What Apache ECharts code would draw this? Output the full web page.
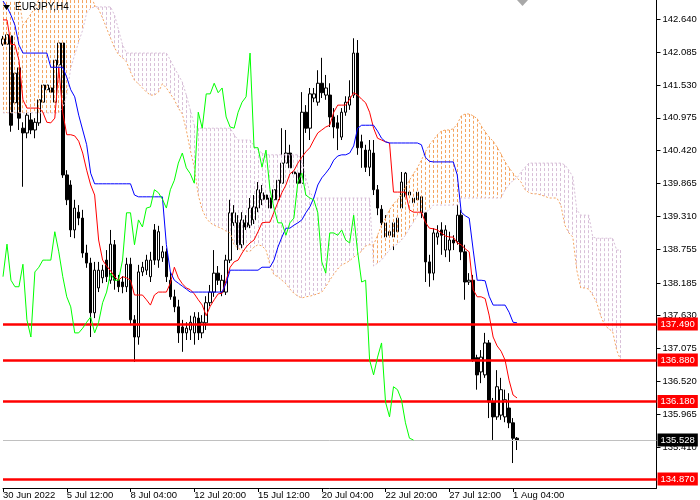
<!DOCTYPE html>
<html><head><meta charset="utf-8">
<script src="https://cdn.jsdelivr.net/npm/echarts@6/dist/echarts.min.js"></script>
<style>html,body{margin:0;padding:0;background:#fff}#c{width:700px;height:500px}</style>
</head><body><div id="c"></div>
<script>
const symbolTitle = 'EURJPY,H4';
const timeLabels = ['30 Jun 2022','5 Jul 12:00','8 Jul 04:00','12 Jul 20:00','15 Jul 12:00','20 Jul 04:00','22 Jul 20:00','27 Jul 12:00','1 Aug 04:00'];
const labelEvery = 16;
const slotCount = 165;
const yTicks = [142.640,142.085,141.530,140.975,140.420,139.865,139.310,138.755,138.185,137.630,137.075,136.520,135.965,135.410];
const levels = [137.490,136.880,136.180,134.870];
const currentPrice = 135.528;
const chikouShift = 26;

const opens = [142.22,142.22,142.36,141.23,141.82,140.80,140.72,140.94,140.77,140.89,141.24,141.45,141.48,141.24,141.87,142.24,140.01,139.84,139.08,139.38,
139.28,138.69,138.52,137.68,138.10,138.27,138.57,138.23,138.83,138.23,138.20,138.12,138.50,137.56,137.27,138.37,138.40,138.29,139.08,138.57,
138.61,138.71,138.23,137.95,137.78,137.44,137.34,137.39,137.34,137.59,137.34,137.51,137.85,138.03,138.35,138.03,138.03,138.57,139.20,139.20,
138.83,139.20,139.16,139.25,139.45,139.59,139.67,139.62,139.59,139.59,139.87,140.21,140.38,140.06,140.04,139.87,141.07,140.80,141.31,141.24,
141.56,141.36,141.36,140.99,140.89,140.65,141.07,141.19,141.36,142.07,140.57,140.43,140.14,140.38,139.76,139.43,138.96,139.05,138.96,139.05,
139.45,139.64,139.72,139.54,139.72,139.64,139.37,138.54,138.35,138.96,139.08,138.74,138.74,138.91,138.88,139.33,138.71,138.20,138.23,136.92,
136.68,136.63,137.17,136.17,135.92,135.95,135.92,136.07,135.82,135.56];
const closes = [142.31,142.38,140.85,141.73,140.97,140.72,141.02,140.77,140.90,141.28,141.53,141.53,141.41,141.95,142.24,140.01,139.59,139.08,139.45,139.28,
138.69,138.52,137.68,138.40,138.40,138.40,138.29,138.84,138.23,138.12,138.12,138.50,137.56,137.27,138.37,138.45,138.57,138.57,138.57,139.05,
138.71,138.29,137.95,137.78,137.34,137.34,137.42,137.52,137.61,137.34,137.52,137.85,138.03,138.35,138.23,138.23,138.57,139.37,139.37,138.83,
139.25,139.13,139.45,139.47,139.76,139.71,139.60,139.45,139.76,139.92,140.21,140.38,140.13,140.03,139.87,141.07,140.80,141.38,141.38,141.56,
141.40,141.48,140.99,140.82,140.80,141.07,141.24,141.33,142.07,140.47,140.47,140.14,140.43,139.76,139.45,139.20,139.20,138.99,139.20,139.28,
139.89,140.04,139.67,139.62,139.59,139.37,138.54,138.35,139.03,139.03,138.99,139.08,138.91,138.86,139.33,138.71,138.20,138.23,136.88,136.63,
136.93,137.17,136.17,135.92,136.43,136.38,136.21,135.82,135.56,135.53];
const highs = [142.36,142.48,142.41,141.82,141.92,140.90,141.07,141.07,140.97,141.41,141.65,141.61,141.55,142.04,142.38,142.38,140.09,139.92,139.59,139.50,
139.42,138.83,138.61,138.54,138.54,138.49,138.74,139.08,138.91,138.32,138.30,138.61,138.61,137.64,138.49,138.54,138.66,138.71,139.18,139.15,
138.81,138.77,138.37,138.07,137.90,137.56,137.52,137.63,137.69,137.69,137.64,137.96,138.15,138.74,138.47,138.32,138.66,139.59,139.50,139.33,
139.38,139.33,139.62,139.67,139.89,139.84,139.76,139.79,139.84,140.09,140.80,140.77,140.52,140.18,140.18,141.41,141.19,141.48,141.48,141.78,
141.99,141.70,141.56,141.14,141.02,141.14,141.34,141.61,142.32,142.29,140.69,140.52,140.60,140.60,139.84,139.50,139.33,139.33,139.28,139.38,
140.06,140.06,139.84,139.72,139.84,139.76,139.45,138.66,139.11,139.16,139.21,139.16,139.05,138.99,139.54,139.42,138.83,138.35,138.32,136.97,
137.05,137.34,137.22,136.24,136.71,136.58,136.38,136.32,135.90,135.58];
const lows = [142.19,142.17,140.74,141.14,140.77,139.81,140.63,140.70,140.63,140.84,141.19,141.41,141.36,141.21,141.82,139.96,139.50,138.96,138.94,139.16,
138.61,138.44,137.27,137.59,138.03,138.18,138.20,138.17,138.07,138.03,138.01,138.03,137.47,136.85,137.14,138.30,138.32,138.20,138.49,138.44,
138.54,138.20,137.90,137.69,137.17,137.02,137.22,137.22,137.14,137.22,137.25,137.39,137.79,137.95,138.15,137.96,137.98,138.52,139.15,138.74,
138.77,139.08,139.11,139.18,139.38,139.50,139.50,139.38,139.50,139.50,139.81,140.13,140.06,139.92,139.59,139.82,140.72,140.60,141.24,141.18,
141.31,141.28,140.82,140.63,140.43,140.60,141.01,141.11,141.31,140.35,140.13,140.06,139.99,139.67,139.33,139.08,138.91,138.94,138.74,138.98,
139.38,139.59,139.59,139.47,139.50,139.28,138.20,138.12,138.23,138.83,138.66,138.62,138.54,138.74,138.83,138.57,137.90,138.15,136.85,136.38,
136.49,136.58,135.90,135.53,135.87,135.87,135.83,135.73,135.14,135.36];

const tenkan = [142.63,142.63,142.22,142.21,141.95,141.28,141.14,141.14,141.14,141.14,141.07,140.90,140.89,140.97,141.82,141.06,140.69,140.69,140.67,140.58,
140.38,140.09,139.84,139.67,138.91,138.57,138.47,138.39,138.29,138.23,138.29,138.27,138.23,137.98,137.98,137.98,137.90,137.81,137.98,138.03,
138.03,138.03,138.18,138.45,138.27,138.17,138.10,138.07,138.00,137.90,137.81,137.63,137.79,137.90,138.00,138.01,138.23,138.45,138.54,138.57,
138.69,138.79,138.86,138.91,139.05,139.20,139.21,139.21,139.38,139.55,139.71,139.84,140.03,140.08,140.21,140.31,140.40,140.47,140.60,140.72,
140.77,140.82,140.85,141.07,141.19,141.19,141.19,141.29,141.40,141.36,141.29,141.23,141.07,140.80,140.63,140.60,140.57,140.55,139.72,139.72,
139.72,139.72,139.42,139.38,139.38,139.38,139.21,139.11,139.10,139.08,139.03,138.98,138.96,138.96,138.86,138.83,138.76,138.71,138.07,137.95,
137.95,137.92,137.64,137.27,137.12,137.03,136.88,136.54,136.29,136.24];
const kijun = [142.95,142.85,142.71,142.54,142.21,142.07,142.07,142.07,142.07,142.07,142.07,142.07,141.83,141.83,141.83,141.83,141.66,141.45,141.33,141.02,
140.77,140.52,140.04,139.86,139.86,139.86,139.86,139.86,139.86,139.86,139.86,139.86,139.86,139.67,139.64,139.64,139.64,139.64,139.64,139.64,
139.64,138.83,138.37,138.23,138.18,138.13,138.08,138.03,138.03,138.03,138.03,138.03,138.03,138.03,138.03,138.03,138.18,138.40,138.40,138.40,
138.40,138.40,138.40,138.40,138.40,138.45,138.45,138.45,138.57,138.79,138.96,139.11,139.11,139.16,139.20,139.25,139.37,139.47,139.62,139.84,
139.96,140.04,140.13,140.26,140.33,140.35,140.35,140.38,140.50,140.80,140.85,140.85,140.85,140.85,140.75,140.63,140.57,140.55,140.55,140.55,
140.55,140.55,140.55,140.55,140.55,140.52,140.31,140.24,140.23,140.23,140.23,140.23,140.23,140.23,140.01,139.38,139.32,139.28,138.74,138.23,
138.23,138.22,137.96,137.81,137.81,137.81,137.81,137.69,137.52,137.51];
const spanA = [143.02,143.02,143.02,143.02,143.02,142.54,142.63,142.73,142.83,142.97,143.05,143.05,143.05,143.05,143.05,143.05,143.05,143.05,143.05,143.05,
143.05,143.05,143.05,142.88,142.81,142.66,142.49,142.32,142.16,142.04,141.99,141.92,141.75,141.61,141.55,141.48,141.41,141.36,141.36,141.41,
141.55,141.48,141.38,141.28,141.14,141.04,140.77,140.43,140.14,139.67,139.42,139.28,139.20,139.16,139.13,139.10,139.06,139.03,138.83,138.77,
138.74,138.72,138.72,138.79,138.83,138.81,138.74,138.49,138.32,138.29,138.23,138.17,138.08,138.01,137.96,137.93,137.95,137.96,137.98,138.00,
138.03,138.12,138.23,138.33,138.42,138.49,138.52,138.56,138.62,138.67,138.72,138.81,138.83,138.83,138.99,139.16,139.28,139.42,139.52,139.59,
139.69,139.81,139.92,140.03,140.13,140.26,140.40,140.52,140.60,140.69,140.75,140.77,140.77,140.79,140.87,141.01,141.04,141.04,141.01,140.96,
140.84,140.74,140.65,140.58,140.48,140.36,140.23,140.13,140.04,139.96,139.89,139.76,139.71,139.69,139.69,139.67,139.65,139.62,139.62,139.62,
139.50,139.16,139.03,138.96,138.40,138.10,138.10,138.08,137.98,137.85,137.63,137.47,137.41,137.36,137.05,136.88];
const spanB = [141.06,141.06,141.06,141.06,141.06,141.06,141.06,141.06,141.06,141.06,141.06,141.06,141.06,141.06,141.06,141.14,141.36,141.82,142.04,142.26,
142.46,142.75,142.83,142.85,142.85,142.85,142.85,142.85,142.71,142.46,142.21,142.07,142.07,142.07,142.07,142.07,142.07,142.07,142.07,142.07,
142.07,142.07,141.95,141.82,141.70,141.58,141.36,141.11,140.85,140.80,140.80,140.80,140.80,140.80,140.80,140.80,140.80,140.80,140.69,140.60,
140.60,140.60,140.60,140.50,140.43,140.38,140.35,140.35,140.35,140.35,140.35,140.35,140.35,140.35,140.35,140.26,139.96,139.72,139.62,139.62,
139.62,139.62,139.62,139.62,139.62,139.62,139.62,139.62,139.62,139.62,139.62,139.62,139.62,138.47,138.52,138.57,138.66,138.74,138.81,138.84,
138.91,138.99,139.11,139.21,139.33,139.38,139.38,139.42,139.50,139.50,139.50,139.50,139.50,139.50,139.50,139.62,139.62,139.62,139.62,139.62,
139.62,139.62,139.62,139.62,139.62,139.62,139.76,139.84,139.92,139.96,140.06,140.14,140.21,140.21,140.21,140.21,140.21,140.21,140.21,140.21,
140.21,140.18,140.09,139.98,139.42,139.33,139.33,139.33,138.96,138.94,138.94,138.94,138.94,138.94,138.74,138.74];

// Chikou Span is the close line drawn 26 bars back
const chikou = closes.slice(chikouShift);

const FONT = "'Liberation Sans',Arial,sans-serif";
const FS = 9.5;
const slots = Array.from({length: slotCount}, (_, i) => String(i));
const showSlot = (i) => i % labelEvery === 0 && i / labelEvery < timeLabels.length;

const chart = echarts.init(document.getElementById('c'), null, {renderer: 'canvas'});
const candleData = opens.map((o, i) => [o, closes[i], lows[i], highs[i]]);
const cloudData = spanA.map((a, i) => [i, a, spanB[i]]);

function priceTag(v, bg) {
  return {show: true, position: 'end', distance: 1, formatter: () => v.toFixed(3),
    color: '#fff', backgroundColor: bg, padding: [2, 3, 1, 3], fontSize: FS, fontFamily: FONT};
}
const levelLines = [{yAxis: currentPrice, lineStyle: {color: '#c0c0c0', width: 1, type: 'solid'}, label: priceTag(currentPrice, '#000')}]
  .concat(levels.map(v => ({yAxis: v, lineStyle: {color: '#ff0000', width: 2.5, type: 'solid'}, label: priceTag(v, '#ff0000')})));

function hatch(params, api) {
  const i = api.value(0), a = api.value(1), b = api.value(2);
  const pa = api.coord([i, a]), pb = api.coord([i, b]);
  const top = Math.min(pa[1], pb[1]), bot = Math.max(pa[1], pb[1]);
  const x = Math.floor(pa[0]) + 0.5;
  const col = a >= b ? '#f4a460' : '#d8bfd8';
  return {type: 'group', children: [
    {type: 'line', shape: {x1: x, y1: top, x2: x, y2: bot}, style: {stroke: '#ffffff', lineWidth: 1}},
    {type: 'line', shape: {x1: x, y1: top, x2: x, y2: bot}, style: {stroke: col, lineWidth: 1, lineDash: [3, 2]}}
  ]};
}

chart.setOption({
  animation: false,
  backgroundColor: '#ffffff',
  grid: {left: 0.5, right: 43.5, top: 0, bottom: 12, containLabel: false},
  xAxis: {
    type: 'category', data: slots, boundaryGap: false,
    axisLine: {show: true, lineStyle: {color: '#000', width: 1}},
    axisTick: {show: true, alignWithLabel: true, interval: showSlot, length: 4, lineStyle: {color: '#000'}},
    axisLabel: {show: true, interval: showSlot, formatter: (v, i) => timeLabels[i / labelEvery],
      align: 'left', color: '#000', fontSize: FS, fontFamily: FONT, margin: 2},
    splitLine: {show: false}
  },
  yAxis: {
    type: 'value', position: 'right', min: 134.718, max: 142.967, scale: true,
    axisLine: {show: true, onZero: false, lineStyle: {color: '#000', width: 1}},
    axisTick: {show: true, customValues: yTicks, length: 4, lineStyle: {color: '#000'}},
    axisLabel: {show: true, customValues: yTicks, formatter: v => v.toFixed(3), color: '#000',
      fontSize: FS, fontFamily: FONT, margin: 6},
    splitLine: {show: false}
  },
  series: [
    {type: 'candlestick', name: 'EURJPY', data: candleData, barWidth: 3, z: 2,
      itemStyle: {color: '#ffffff', color0: '#000000', borderColor: '#000000', borderColor0: '#000000', borderColorDoji: '#000000', borderWidth: 1}},
    {type: 'custom', name: 'Kumo', data: cloudData, renderItem: hatch, z: 3, clip: true,
      encode: {x: 0, y: [1, 2]}, silent: true},
    {type: 'line', name: 'Senkou Span A', data: spanA, symbol: 'none', z: 3,
      lineStyle: {color: '#f4a460', width: 1, type: [2, 2]}},
    {type: 'line', name: 'Senkou Span B', data: spanB, symbol: 'none', z: 3,
      lineStyle: {color: '#d8bfd8', width: 1, type: [2, 2]}},
    {type: 'line', name: 'Tenkan-sen', data: tenkan, symbol: 'none', z: 4,
      lineStyle: {color: '#ff0000', width: 1}},
    {type: 'line', name: 'Kijun-sen', data: kijun, symbol: 'none', z: 4,
      lineStyle: {color: '#0000ff', width: 1}},
    {type: 'line', name: 'Chikou Span', data: chikou, symbol: 'none', z: 5,
      lineStyle: {color: '#00ff00', width: 1},
      markLine: {symbol: 'none', silent: true, animation: false, data: levelLines}}
  ],
  graphic: [
    {type: 'polygon', shape: {points: [[3, 5], [10, 5], [6.5, 10]]}, style: {fill: '#000'}, z: 10},
    {type: 'text', left: 15, top: 2, style: {text: symbolTitle, fill: '#000', fontSize: 10, fontFamily: FONT}, z: 10},
    {type: 'polygon', shape: {points: [[517, 0], [528, 0], [522.5, 6]]}, style: {fill: '#a8a8a8'}, z: 10}
  ]
});
</script>
</body></html>
